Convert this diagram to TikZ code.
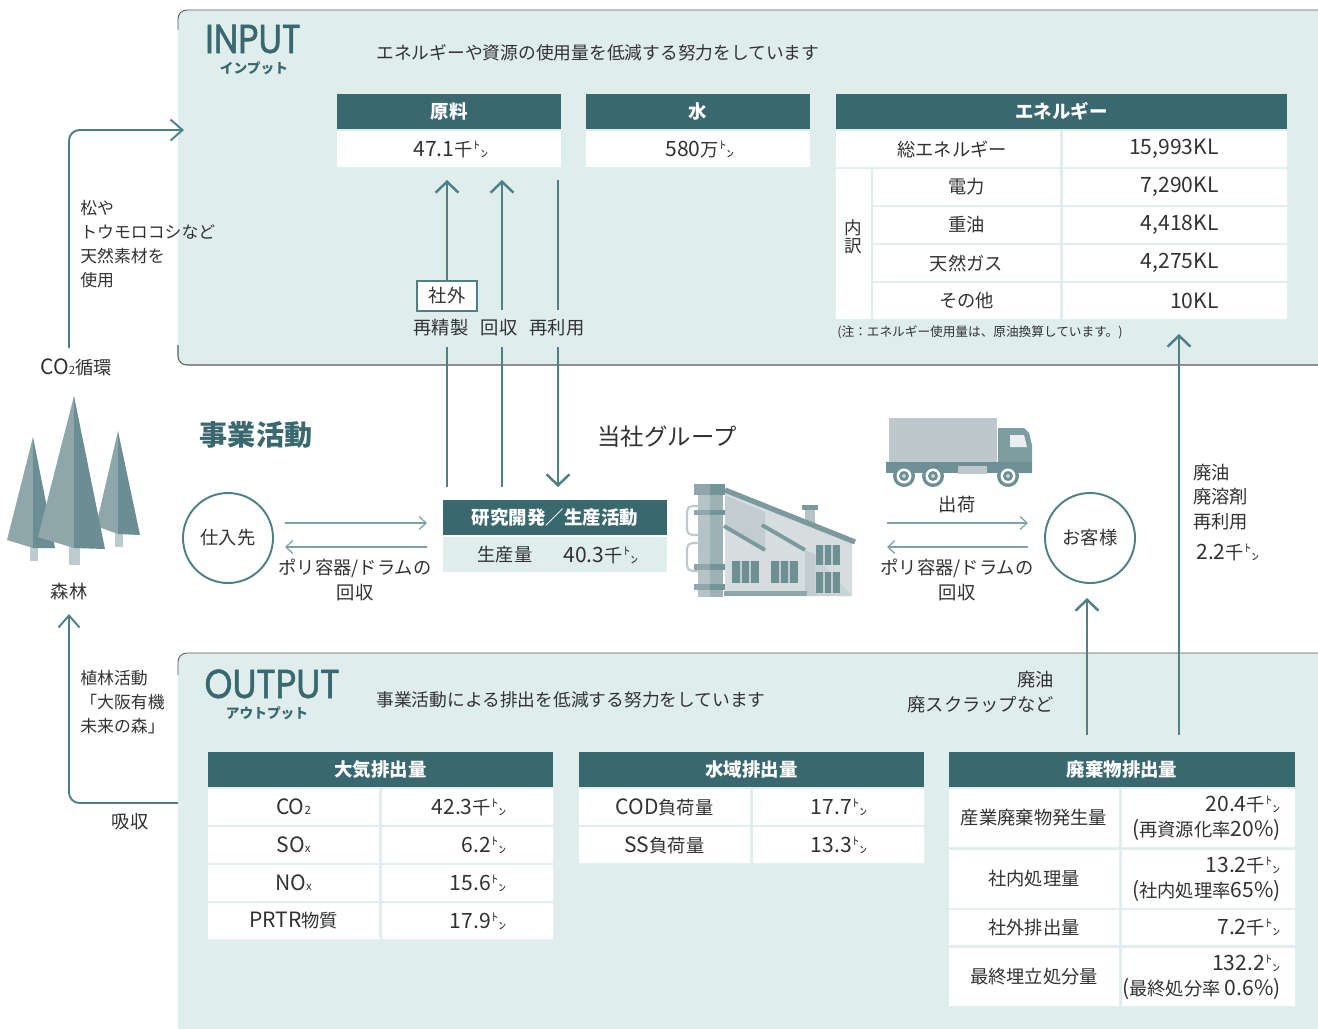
\documentclass[tikz,border=0pt]{standalone}
\usepackage{fontspec}
\usepackage{graphicx}
\setmainfont{Noto Sans CJK JP}
\newfontfamily\titlefont{Poppins}[FakeBold=1.5]
\usetikzlibrary{arrows.meta,calc}

\definecolor{panelc}{RGB}{223,237,237}
\definecolor{headc}{RGB}{57,104,110}
\definecolor{flowc}{RGB}{78,128,134}
\definecolor{thinc}{RGB}{125,162,167}
\definecolor{txtc}{RGB}{50,50,50}
\definecolor{edgec}{RGB}{90,90,90}
\definecolor{treel}{RGB}{143,167,171}
\definecolor{treed}{RGB}{106,142,147}
\definecolor{trunkc}{RGB}{189,202,206}
\definecolor{facl}{RGB}{213,221,223}
\definecolor{facm}{RGB}{193,205,208}
\definecolor{facd}{RGB}{124,154,158}
\definecolor{winc}{RGB}{110,144,149}
\definecolor{coll}{RGB}{180,195,198}
\definecolor{colr}{RGB}{157,178,181}
\definecolor{capl}{RGB}{143,167,170}
\definecolor{capr}{RGB}{115,149,154}
\definecolor{truckl}{RGB}{188,200,204}
\definecolor{truckm}{RGB}{126,157,161}
\definecolor{truckd}{RGB}{108,144,148}

% squared "ton" unit, a little narrowed
\newcommand\tonu{\kern0.04em\scalebox{0.78}[1]{\fontsize{11pt}{12pt}\selectfont ㌧}}
\newcommand\nm[1]{{\fontsize{12pt}{14pt}\selectfont #1}}
\newcommand\lowsub[1]{{\fontsize{6.5pt}{7pt}\selectfont #1}}

\begin{document}
\begin{tikzpicture}[x=0.02cm, y=-0.02cm,
  lbl/.style={text=txtc, inner sep=0pt, font=\fontsize{10.4pt}{14pt}\selectfont},
  small/.style={text=txtc, inner sep=0pt, font=\fontsize{9.6pt}{13.6pt}\selectfont},
  hdtxt/.style={text=white, inner sep=0pt, font=\bfseries\fontsize{10.5pt}{12pt}\selectfont},
  title/.style={text=headc, inner sep=0pt, text depth=0pt, anchor=base, font=\titlefont\fontsize{23pt}{24pt}\selectfont},
  subtitle/.style={text=headc, inner sep=0pt, font=\bfseries\fontsize{7.8pt}{9pt}\selectfont},
  circ/.style={circle, draw=flowc, line width=1.1pt, minimum size=90*0.02cm, inner sep=0pt, text=txtc, font=\fontsize{10.4pt}{12pt}\selectfont},
  flow/.style={draw=flowc, line width=1.4pt, -{Straight Barb[length=2.2mm,width=4.6mm]}},
  stem/.style={draw=flowc, line width=1.4pt},
  loop/.style={draw=flowc, line width=1.1pt, rounded corners=6pt, -{Straight Barb[length=2.4mm,width=4.2mm]}},
  thinarr/.style={draw=thinc, line width=0.7pt, -{Straight Barb[length=1.4mm,width=2.6mm]}}]
\clip (0,0) rectangle (1318,1028);
\fill[white] (0,0) rectangle (1318,1028);

% INPUT panel
\fill[panelc, rounded corners=5pt] (1340,10) -- (178,10) -- (178,365) -- (1340,365) -- cycle;
\draw[edgec, line width=0.5pt, rounded corners=5pt] (1340,10) -- (178,10) -- (178,30);
\draw[edgec, line width=0.6pt, rounded corners=5pt] (178,345) -- (178,365) -- (1340,365);
\node[title] (inp) at (253,53) {\scalebox{0.86}[1]{INPUT}};
\node[subtitle] (inpk) at (254,68) {インプット};
\node[lbl, anchor=west, font=\fontsize{10.1pt}{12pt}\selectfont] (inpmsg) at (376,53) {エネルギーや資源の使用量を低減する努力をしています};

% raw materials and water
\fill[headc] (337,94) rectangle (561,129);
\node[hdtxt] (gen) at (449,111.5) {原料};
\fill[white] (337,131) rectangle (561,167);
\node[lbl] (genv) at (451,149) {\nm{47.1}千\tonu};
\fill[headc] (586,94) rectangle (810,129);
\node[hdtxt] (wat) at (698,111.5) {水};
\fill[white] (586,131) rectangle (810,167);
\node[lbl] (watv) at (700,149) {\nm{580}万\tonu};

% energy
\fill[headc] (836,94) rectangle (1287,129);
\node[hdtxt] (ene) at (1061.5,111.5) {エネルギー};
\fill[white] (836,131) rectangle (1060,167) (1063,131) rectangle (1287,167);
\node[lbl] (enet) at (952,149) {総エネルギー};
\node[lbl, anchor=east] (enetv) at (1219,149) {\nm{15,993KL}};
\fill[white] (836,169) rectangle (871,319);
\node[lbl, align=center, font=\fontsize{10pt}{10.4pt}\selectfont] (enein) at (853.5,237) {内\\訳};
\foreach \y/\lab/\val [count=\i] in {169/電力/{7,290KL}, 207/重油/{4,418KL}, 245/天然ガス/{4,275KL}, 283/その他/10KL} {
  \fill[white] (873,\y) rectangle (1060,\y+36) (1063,\y) rectangle (1287,\y+36);
  \node[lbl] (ene\i) at (966.5,\y+18) {\lab};
  \node[lbl, anchor=east] (enev\i) at (1219,\y+18) {\nm{\val}};
}
\node[lbl, anchor=west, font=\fontsize{7.2pt}{9pt}\selectfont] (note) at (837,332) {(注：エネルギー使用量は、原油換算しています。)};

% recycled flows into raw materials
\coordinate (r1b) at (447,487); \coordinate (r1m) at (447,347); \coordinate (r1t) at (447,180);
\coordinate (r2b) at (502,487); \coordinate (r2m) at (502,347); \coordinate (r2u) at (502,310); \coordinate (r2t) at (502,180);
\coordinate (r3b) at (558,487); \coordinate (r3m) at (558,347); \coordinate (r3u) at (558,310); \coordinate (r3t) at (558,180);
\node[draw=flowc, fill=white, line width=0.8pt, minimum width=60*0.02cm, minimum height=30*0.02cm, inner sep=0pt, text=txtc, font=\fontsize{10.4pt}{12pt}\selectfont] (ext) at (447,296) {社外};
\node[lbl] (refine) at (441,328) {再精製};
\node[lbl] (recov) at (499,328) {回収};
\node[lbl] (reuse) at (557,328) {再利用};
\draw[stem] (r1b) -- (r1m);
\draw[flow] (ext.north) -- (r1t);
\draw[stem] (r2b) -- (r2m);
\draw[flow] (r2u) -- (r2t);
\draw[stem] (r3u) -- (r3t);
\draw[flow] (r3m) -- (r3b);

% forest and CO2 loop
\fill[trunkc] (30,545) rectangle (38,561);
\fill[treel] (33,437) -- (7,540) -- (33,548) -- cycle;
\fill[treed] (33,437) -- (33,548) -- (55,548) -- cycle;
\fill[trunkc] (115,530) rectangle (123,547);
\fill[treel] (118,431) -- (96,526) -- (118,534) -- cycle;
\fill[treed] (118,431) -- (118,534) -- (140,535) -- cycle;
\fill[trunkc] (69,545) rectangle (80,565);
\fill[treel] (74,396) -- (38,537) -- (74,548) -- cycle;
\fill[treed] (74,396) -- (74,548) -- (105,549) -- cycle;
\node[lbl] (forest) at (69,592) {森林};
\node[lbl] (co2) at (76,367) {\nm{CO}\lowsub{2}循環};
\node[small, anchor=west, align=left] (pine) at (80,244) {松や\\トウモロコシなど\\天然素材を\\使用};
\node[small, anchor=west, align=left] (plant) at (80,702) {植林活動\\「大阪有機\\未来の森」};
\node[lbl] (absorb) at (130,822) {吸収};
\coordinate (co2top) at (69,348);
\coordinate (inpin) at (184,130);
\coordinate (outout) at (183,803);
\coordinate (foresttop) at (69,614);
\draw[loop] (co2top) |- (inpin);
\draw[loop] (outout) -| (foresttop);

% business activities
\node[text=headc, inner sep=0pt, font=\bfseries\fontsize{16pt}{18pt}\selectfont] (biz) at (256,435) {事業活動};
\node[lbl, font=\fontsize{13.3pt}{15pt}\selectfont] (group) at (667,437) {当社グループ};
\node[circ] (sup) at (228,538) {仕入先};
\node[circ] (cus) at (1090,538) {お客様};
\fill[headc] (443,500) rectangle (667,535);
\node[hdtxt] (rdh) at (555,517.5) {研究開発／生産活動};
\fill[panelc] (443,537) rectangle (667,572);
\node[lbl] (prod) at (505,555) {生産量};
\node[lbl] (prodv) at (601,555) {\nm{40.3}千\tonu};
\coordinate (supo) at (285,523); \coordinate (rdin) at (427,523);
\coordinate (rdout) at (427,547); \coordinate (supi) at (285,547);
\draw[thinarr] (supo) -- (rdin);
\draw[thinarr] (rdout) -- (supi);
\node[lbl, align=center] (back1) at (355,580) {ポリ容器/ドラムの\\回収};
\coordinate (shipo) at (887,523); \coordinate (cusin) at (1028,523);
\coordinate (cusout) at (1028,547); \coordinate (shipi) at (887,547);
\draw[thinarr] (shipo) -- (cusin);
\draw[thinarr] (cusout) -- (shipi);
\node[lbl] (ship) at (957,505) {出荷};
\node[lbl, align=center] (back2) at (957,580) {ポリ容器/ドラムの\\回収};

% factory
\draw[trunkc, line width=1.2pt, rounded corners=3pt] (687,506) rectangle (704,535) (687,543) rectangle (704,571);
\fill[facl] (725,492) -- (852,543) -- (852,596) -- (725,596) -- cycle;
\fill[facm] (725,495) -- (765,512) -- (765,551) -- (725,527) -- cycle;
\draw[facd, line width=2.2pt] (724,526) -- (765,550);
\draw[facd, line width=2.2pt] (762,525) -- (805,550);
\fill[facm] (805,550) -- (815,554) -- (815,596) -- (805,596) -- cycle;
\fill[facm!60!facl] (815,556) -- (852,596) -- (815,596) -- cycle;
\fill[coll] (805,509) rectangle (815,525);
\fill[facd] (802,505) rectangle (818,510);
\draw[facd, line width=3pt] (725,490) -- (855,542);
\foreach \wx/\wy/\ww/\wh in {732/561/27/22, 771/561/27/22, 816/545/24/20, 816/572/24/21} {
  \fill[winc] (\wx,\wy) rectangle ++(\ww,\wh);
  \draw[white!55!winc, line width=0.7pt] (\wx+\ww/3,\wy) -- ++(0,\wh) (\wx+2*\ww/3,\wy) -- ++(0,\wh);
}
\fill[capl] (724,591) rectangle (807,596);
\fill[coll] (698,495) rectangle (710,597);
\fill[colr] (710,495) rectangle (723,597);
\foreach \by/\bh in {484/11, 510/5, 564/6, 584/6} {
  \fill[capl] (694,\by) rectangle (710,\by+\bh);
  \fill[capr] (710,\by) rectangle (725,\by+\bh);
}

% truck
\fill[truckl] (889,418) rectangle (997,462);
\fill[truckm] (998,428) -- (1024,428) -- (1029,433) -- (1032,445) -- (1032,473) -- (998,473) -- cycle;
\fill[white!70!truckl] (1010,435) -- (1024,435) -- (1027,447) -- (1010,447) -- cycle;
\fill[truckd] (886,462) rectangle (1032,473);
\fill[truckl] (958,466) rectangle (987,474);
\foreach \wx in {904,933,1008} {
  \fill[truckd] (\wx,476) circle (11);
  \fill[white] (\wx,476) circle (7.5);
  \fill[truckd] (\wx,476) circle (5);
  \fill[white!60!truckd] (\wx,476) circle (2);
}

% OUTPUT panel
\fill[panelc, rounded corners=5pt] (1340,653) -- (178,653) -- (178,1040) -- (1340,1040) -- cycle;
\draw[edgec, line width=0.5pt, rounded corners=5pt] (1340,653) -- (178,653) -- (178,675);
\node[title] (outp) at (272,698) {\scalebox{0.88}[1]{OUTPUT}};
\node[subtitle] (outpk) at (267,713) {アウトプット};
\node[lbl, anchor=west, font=\fontsize{10.1pt}{12pt}\selectfont] (outmsg) at (376,700) {事業活動による排出を低減する努力をしています};

% returns from customers and waste
\coordinate (w1) at (1087,735); \coordinate (w1t) at (1087,598);
\coordinate (w2) at (1179,735); \coordinate (w2t) at (1179,334);
\draw[flow] (w1) -- (w1t);
\draw[flow] (w2) -- (w2t);
\node[lbl, anchor=east, align=right] (scrap) at (1054,692) {廃油\\廃スクラップなど};
\node[lbl, anchor=west, align=left] (oil) at (1193,497) {廃油\\廃溶剤\\再利用};
\node[lbl, anchor=west] (oilv) at (1196,552) {\nm{2.2}千\tonu};

% air
\fill[headc] (208,752) rectangle (553,787);
\node[hdtxt] (air) at (380.5,769.5) {大気排出量};
\foreach \y/\lab/\val [count=\i] in {789/{\nm{CO}\lowsub{2}}/{\nm{42.3}千\tonu}, 827/{\nm{SO}\lowsub{x}}/{\nm{6.2}\tonu}, 865/{\nm{NO}\lowsub{x}}/{\nm{15.6}\tonu}, 903/{\nm{PRTR}物質}/{\nm{17.9}\tonu}} {
  \fill[white] (208,\y) rectangle (379,\y+36) (382,\y) rectangle (553,\y+36);
  \node[lbl] (air\i) at (293.5,\y+18) {\lab};
  \node[lbl, anchor=east] (airv\i) at (507,\y+18) {\val};
}

% water
\fill[headc] (579,752) rectangle (924,787);
\node[hdtxt] (wtr) at (751.5,769.5) {水域排出量};
\foreach \y/\lab/\val [count=\i] in {789/{\nm{COD}負荷量}/{\nm{17.7}\tonu}, 827/{\nm{SS}負荷量}/{\nm{13.3}\tonu}} {
  \fill[white] (579,\y) rectangle (750,\y+36) (753,\y) rectangle (924,\y+36);
  \node[lbl] (wtr\i) at (664.5,\y+18) {\lab};
  \node[lbl, anchor=east] (wtrv\i) at (868,\y+18) {\val};
}

% waste
\fill[headc] (949,752) rectangle (1295,787);
\node[hdtxt] (wst) at (1122,769.5) {廃棄物排出量};
\foreach \ya/\yb/\lab/\val [count=\i] in {789/847/産業廃棄物発生量/{\nm{20.4}千\tonu\\\nm{(}再資源化率\nm{20\%)}}, 850/908/社内処理量/{\nm{13.2}千\tonu\\\nm{(}社内処理率\nm{65\%)}}, 910/945/社外排出量/{\nm{7.2}千\tonu}, 948/1006/最終埋立処分量/{\nm{132.2}\tonu\\\nm{(}最終処分率 \nm{0.6\%)}}} {
  \fill[white] (949,\ya) rectangle (1119,\yb) (1122,\ya) rectangle (1295,\yb);
  \node[lbl] (wst\i) at (1034,\ya/2+\yb/2) {\lab};
  \node[lbl, anchor=east, align=right] (wstv\i) at (1281,\ya/2+\yb/2) {\val};
}
\end{tikzpicture}
\end{document}
